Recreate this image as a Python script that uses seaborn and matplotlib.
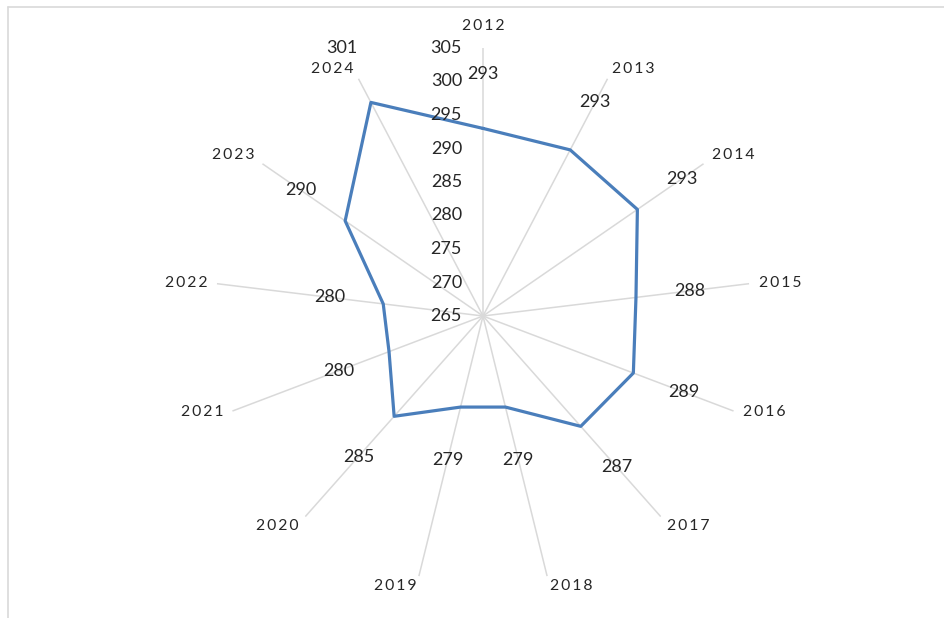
import numpy as np
import pandas as pd
import matplotlib
matplotlib.use("Agg")
import matplotlib.pyplot as plt
from matplotlib.lines import Line2D
import seaborn as sns

years = ["2012", "2013", "2014", "2015", "2016", "2017", "2018",
         "2019", "2020", "2021", "2022", "2023", "2024"]
values = [293, 293, 293, 288, 289, 287, 279, 279, 285, 280, 280, 290, 301]
r_ticks = [265, 270, 275, 280, 285, 290, 295, 300, 305]

sns.set_theme(style="white")
plt.rcParams["font.family"] = ["Lato", "DejaVu Sans"]

W, H, DPI = 944, 618, 100
fig = plt.figure(figsize=(W / DPI, H / DPI), dpi=DPI)
cx, cy, R = 483, 316, 268
ax = fig.add_axes([(cx - R) / W, (H - cy - R) / H, 2 * R / W, 2 * R / H],
                  projection="polar")
ax.set_theta_zero_location("N")
ax.set_theta_direction(-1)

n = len(years)
theta = np.arange(n) * 2 * np.pi / n
df = pd.DataFrame({"theta": np.append(theta, theta[0]),
                   "value": values + [values[0]]})
sns.lineplot(data=df, x="theta", y="value", sort=False, ax=ax,
             color="#4a7ebb", linewidth=2.3, estimator=None)

ax.set_ylim(r_ticks[0], r_ticks[-1])
ax.set_xticks(theta)
ax.set_xticklabels([])
ax.set_yticks(r_ticks)
ax.set_yticklabels([])
ax.yaxis.grid(False)
ax.xaxis.grid(True, color="#d9d9d9", linewidth=1.1)
ax.spines["polar"].set_visible(False)
ax.set_xlabel("")
ax.set_ylabel("")
ax.tick_params(length=0)

txt = "#262626"
# category labels, anchored just beyond the end of each spoke
for t, y in zip(theta, years):
    s, c = np.sin(t), np.cos(t)
    ha = "center" if abs(s) < 0.05 else ("left" if s > 0 else "right")
    va = "center" if abs(c) < 0.4 else ("bottom" if c > 0 else "top")
    gy = 15 if abs(s) < 0.05 else 3
    ax.annotate("\u2009".join(y), xy=(t, r_ticks[-1]),
                xytext=(10 * s, gy * c), textcoords="offset pixels",
                ha=ha, va=va, fontsize=11.3, color=txt,
                annotation_clip=False)

# radial tick labels
for v in r_ticks:
    ax.annotate(str(v), xy=(0, v), xytext=(-21, 0), textcoords="offset pixels",
                ha="right", va="center", fontsize=13, color=txt,
                annotation_clip=False)

# data labels, pushed outward along each spoke
for t, v in zip(theta, values):
    d = 62 if v > 300 else 54
    ax.annotate(str(v), xy=(t, v), xytext=(d * np.sin(t), d * np.cos(t)),
                textcoords="offset pixels", ha="center", va="center",
                fontsize=13, color=txt, annotation_clip=False)

# frame edges (top and left)
fig.add_artist(Line2D([8 / W, 1], [1 - 7 / H, 1 - 7 / H], color="#d9d9d9",
                      linewidth=1.2, transform=fig.transFigure))
fig.add_artist(Line2D([8 / W, 8 / W], [0, 1 - 7 / H], color="#d9d9d9",
                      linewidth=1.2, transform=fig.transFigure))

fig.savefig("out.png", dpi=DPI)
